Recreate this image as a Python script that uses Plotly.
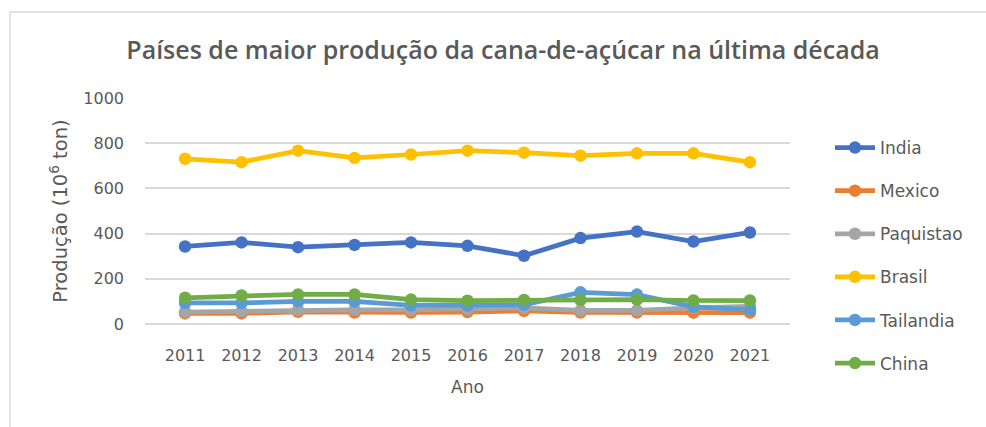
import plotly.graph_objects as go

years = ["2011", "2012", "2013", "2014", "2015", "2016", "2017", "2018", "2019", "2020", "2021"]
india = [343, 361, 340, 350, 361, 346, 302, 380, 409, 365, 405]
mexico = [47, 47, 54, 51, 51, 53, 58, 51, 51, 50, 50]
paquistao = [53, 56, 63, 63, 63, 66, 71, 60, 60, 71, 78]
brasil = [731, 716, 767, 735, 750, 767, 758, 745, 755, 755, 716]
tailandia = [93, 93, 100, 100, 82, 81, 85, 140, 130, 76, 62]
china = [116, 126, 131, 131, 108, 103, 106, 106, 108, 104, 104]

series = [
    ("India", india, "#4472C4"),
    ("Mexico", mexico, "#ED7D31"),
    ("Paquistao", paquistao, "#A5A5A5"),
    ("Brasil", brasil, "#FFC000"),
    ("Tailandia", tailandia, "#5B9BD5"),
    ("China", china, "#70AD47"),
]

FONT = "DejaVu Sans"
fig = go.Figure()
for i, (name, vals, col) in enumerate(series):
    fig.add_trace(go.Scatter(
        x=years, y=vals, name=name, mode="lines+markers",
        line=dict(color=col, width=4.75),
        marker=dict(color=col, size=12.5),
        legendgroup=f"g{i}",
    ))

L, R, T, B = 145, 790, 98, 324
W, H = 986, 427
pw, ph = R - L, B - T

def px(x):
    return (x - L) / pw

def py(y):
    return (B - y) / ph

fig.update_layout(
    width=W, height=H,
    margin=dict(l=L, r=W - R, t=T, b=H - B, autoexpand=False),
    paper_bgcolor="white", plot_bgcolor="white",
    font=dict(family=FONT, size=16, color="#595959"),
    title=dict(text="Países de maior produção da cana-de-açúcar na última década",
               x=503 / W, xref="container", xanchor="center", y=1 - 50 / H, yanchor="middle",
               font=dict(size=25, color="#595959", family="Open Sans", weight=600)),
    xaxis=dict(showgrid=False, showline=False, ticks="", tickfont=dict(size=16),
               automargin=False, ticklabelstandoff=20,
               title=dict(text="Ano", font=dict(size=17), standoff=17)),
    yaxis=dict(range=[0, 1000], dtick=200, showgrid=True, gridcolor="#D9D9D9",
               gridwidth=1.5, zeroline=True, zerolinecolor="#D9D9D9", zerolinewidth=1.5,
               showline=False, ticks="", tickfont=dict(size=16), ticklabelstandoff=20,
               automargin=False,
               title=dict(text="Produção (10<sup>6</sup> ton)", font=dict(size=19.5), standoff=10)),
    legend=dict(x=px(830), xanchor="left", y=py(130), yanchor="top",
                font=dict(size=17, color="#595959"), tracegroupgap=18,
                itemwidth=40, bgcolor="rgba(0,0,0,0)", maxheight=380),
    showlegend=True,
)

# chart border (top and left edges)
fig.add_shape(type="line", xref="paper", yref="paper",
              x0=px(10), x1=px(986), y0=py(12), y1=py(12),
              line=dict(color="#D9D9D9", width=1.5))
fig.add_shape(type="line", xref="paper", yref="paper",
              x0=px(10), x1=px(10), y0=py(12), y1=py(430),
              line=dict(color="#D9D9D9", width=1.5))

fig.write_html("out.html", config={"displayModeBar": False},
               post_script="document.body.style.margin='0';")
